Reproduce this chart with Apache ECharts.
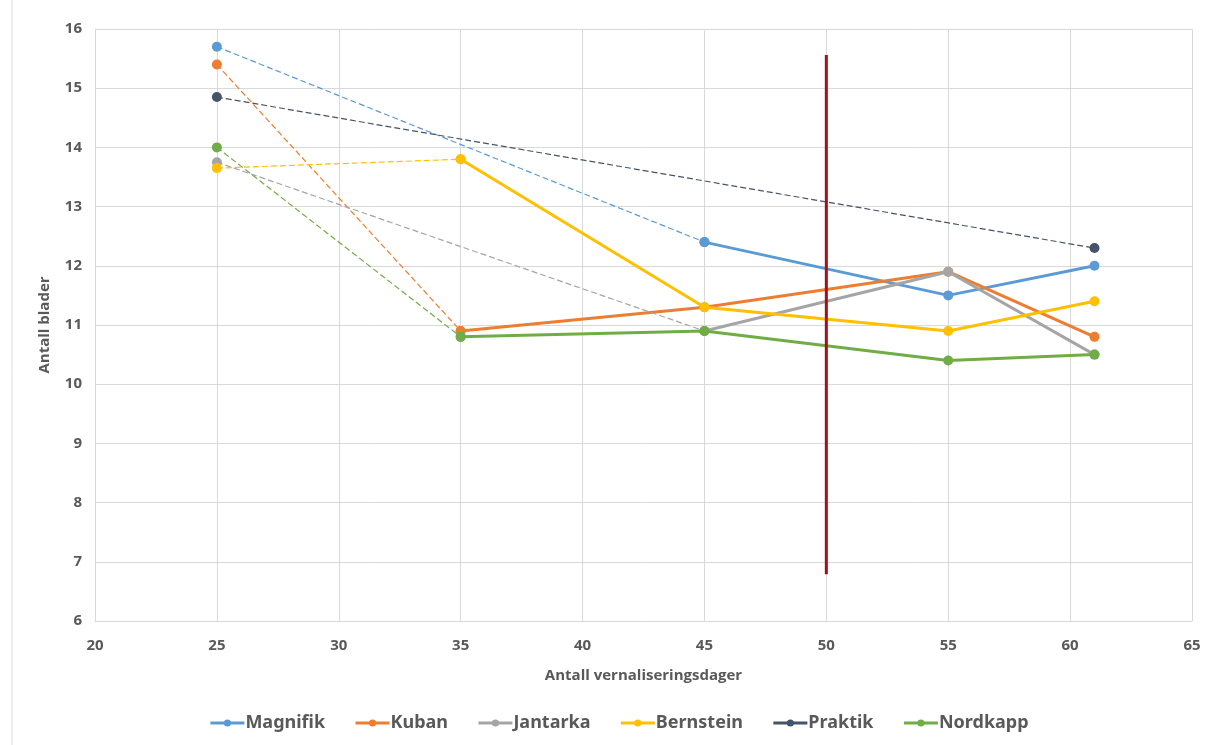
<!DOCTYPE html>
<html>
<head>
<meta charset="utf-8">
<script src="https://cdn.jsdelivr.net/npm/echarts@6/dist/echarts.min.js"></script>
<style>html,body{margin:0;padding:0;background:#fff}#c{width:1209px;height:745px}</style>
</head>
<body>
<div id="c"></div>
<script>
// Data (x = vernaliseringsdager, y = antall blader)
const seriesNames = ['Magnifik', 'Kuban', 'Jantarka', 'Bernstein', 'Praktik', 'Nordkapp'];
const magnifikX = [25, 45, 55, 61];
const magnifikY = [15.7, 12.4, 11.5, 12.0];
const kubanX = [25, 35, 45, 55, 61];
const kubanY = [15.4, 10.9, 11.3, 11.9, 10.8];
const jantarkaX = [25, 45, 55, 61];
const jantarkaY = [13.75, 10.9, 11.9, 10.5];
const bernsteinX = [25, 35, 45, 55, 61];
const bernsteinY = [13.65, 13.8, 11.3, 10.9, 11.4];
const praktikX = [25, 61];
const praktikY = [14.85, 12.3];
const nordkappX = [25, 35, 45, 55, 61];
const nordkappY = [14.0, 10.8, 10.9, 10.4, 10.5];
const markerLineX = [50, 50];
const markerLineY = [15.56, 6.79];
const xTicks = { min: 20, max: 65, interval: 5 };
const yTicks = { min: 6, max: 16, interval: 1 };

const colors = ['#5B9BD5', '#ED7D31', '#A5A5A5', '#FFC000', '#44546A', '#70AD47'];
const allX = [magnifikX, kubanX, jantarkaX, bernsteinX, praktikX, nordkappX];
const allY = [magnifikY, kubanY, jantarkaY, bernsteinY, praktikY, nordkappY];

function pairs(xs, ys) { return xs.map((x, i) => [x, ys[i]]); }

const series = [];
seriesNames.forEach((name, i) => {
  const pts = pairs(allX[i], allY[i]);
  // first segment dashed (thin), rest solid (thick)
  series.push({
    name: name, type: 'line', data: pts.slice(0, 2),
    symbol: 'circle', symbolSize: 10, color: colors[i],
    lineStyle: { width: 1.2, type: [6, 3], color: colors[i] },
    itemStyle: { color: colors[i] }, z: 2 + i, animation: false
  });
  if (pts.length > 2) {
    series.push({
      name: name, type: 'line', data: pts.slice(1),
      symbol: 'circle', symbolSize: 10, color: colors[i],
      lineStyle: { width: 3, type: 'solid', color: colors[i] },
      itemStyle: { color: colors[i] }, z: 2 + i, animation: false
    });
  }
});
series.push({
  name: 'marker', type: 'line', data: pairs(markerLineX, markerLineY),
  symbol: 'none', lineStyle: { width: 3, color: '#A50F15' }, z: 20, animation: false
});

const chart = echarts.init(document.getElementById('c'));
chart.setOption({
  animation: false,
  grid: { left: 95, right: 17, top: 29, bottom: 124 },
  xAxis: {
    type: 'value', min: xTicks.min, max: xTicks.max, interval: xTicks.interval,
    name: 'Antall vernaliseringsdager', nameLocation: 'middle', nameGap: 47,
    nameTextStyle: { fontFamily: 'Open Sans', fontWeight: 'bold', fontSize: 15, color: '#595959' },
    axisLine: { show: true, lineStyle: { color: '#d9d9d9' } },
    axisTick: { show: false },
    axisLabel: { fontFamily: 'Open Sans', fontWeight: 'bold', fontSize: 15, color: '#595959', margin: 17 },
    splitLine: { show: true, lineStyle: { color: '#d9d9d9' } }
  },
  yAxis: {
    type: 'value', min: yTicks.min, max: yTicks.max, interval: yTicks.interval,
    name: 'Antall blader', nameLocation: 'middle', nameGap: 43,
    nameTextStyle: { fontFamily: 'Open Sans', fontWeight: 'bold', fontSize: 15, color: '#595959' },
    axisLine: { show: true, lineStyle: { color: '#d9d9d9' } },
    axisTick: { show: false },
    axisLabel: { fontFamily: 'Open Sans', fontWeight: 'bold', fontSize: 15, color: '#595959', margin: 13 },
    splitLine: { show: true, lineStyle: { color: '#d9d9d9' } }
  },
  legend: {
    data: seriesNames, bottom: 8, left: 204,
    itemWidth: 34, itemHeight: 9, itemGap: 29,
    lineStyle: { type: 'solid', width: 2.8 },
    textStyle: { fontFamily: 'Noto Sans', fontWeight: 'bold', fontSize: 18, color: '#595959', padding: [0, 0, 0, -4] }
  },
  graphic: [{
    type: 'line', shape: { x1: 12, y1: 0, x2: 12, y2: 745 },
    style: { stroke: '#d9d9d9', lineWidth: 1 }
  }],
  series: series
});
</script>
</body>
</html>
